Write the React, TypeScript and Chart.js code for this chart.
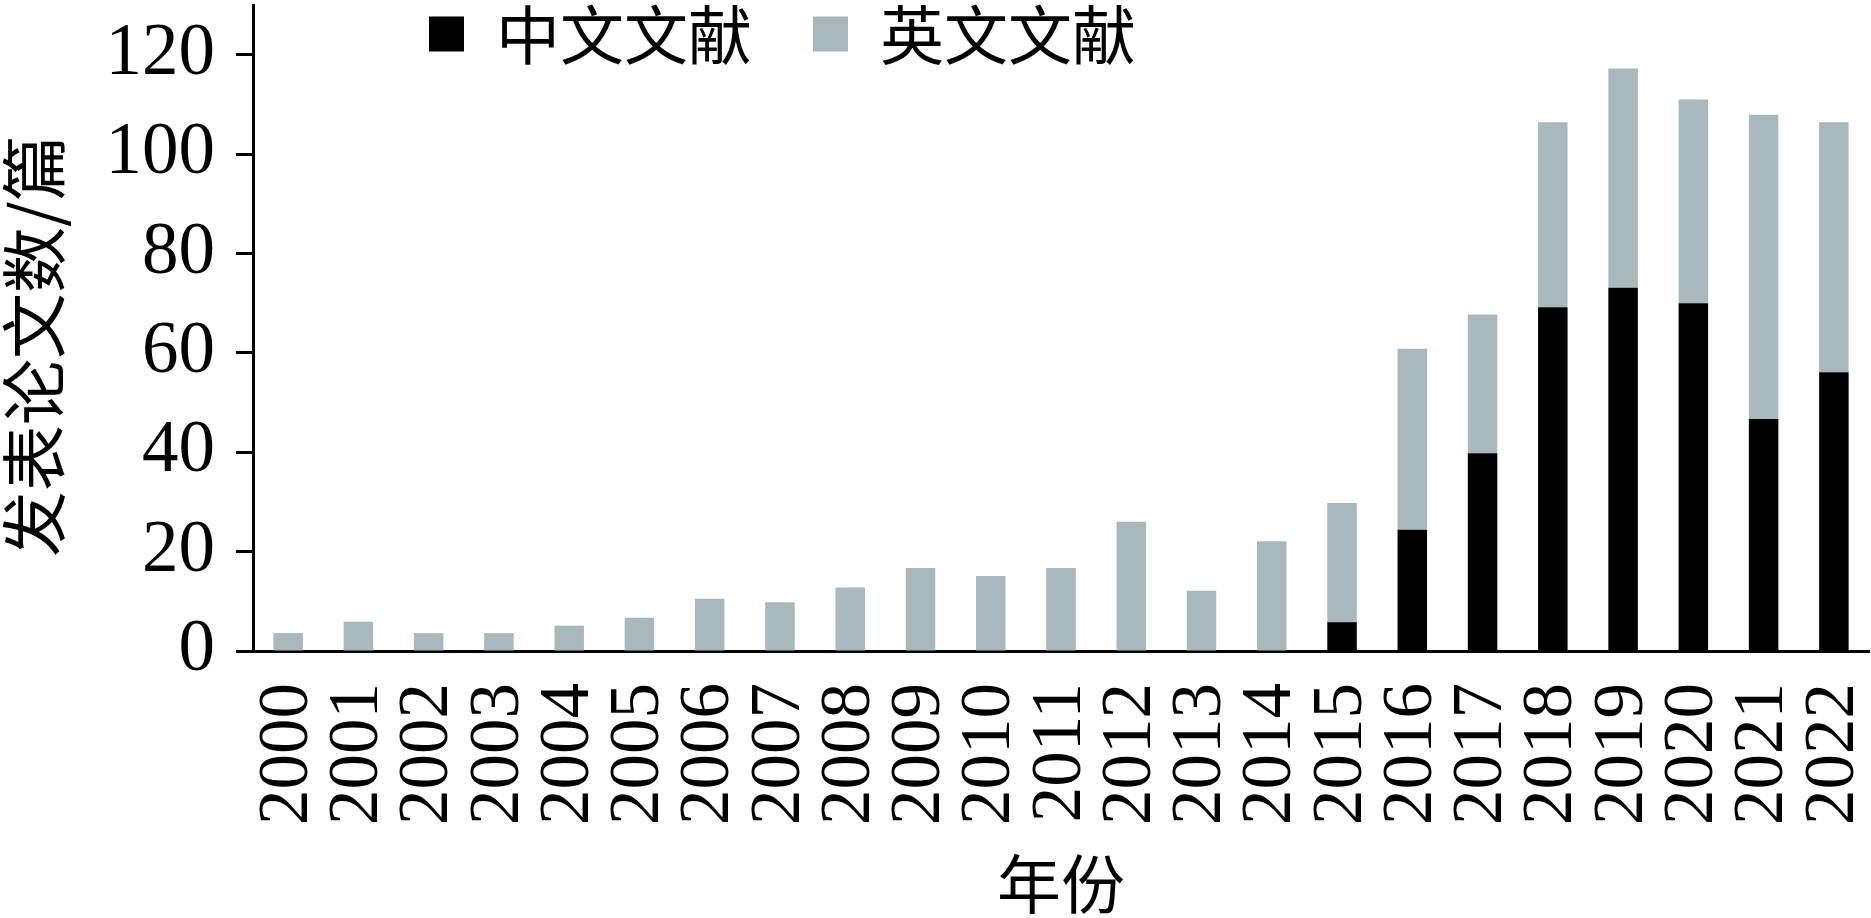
import React, { useEffect, useRef } from "react";
import { Chart, registerables } from "chart.js";

Chart.register(...registerables);

const years = [
  "2000", "2001", "2002", "2003", "2004", "2005", "2006", "2007", "2008", "2009", "2010", "2011",
  "2012", "2013", "2014", "2015", "2016", "2017", "2018", "2019", "2020", "2021", "2022",
];
const chineseLabel = "中文文献";
const englishLabel = "英文文献";
const chineseCounts = [0, 0, 0, 0, 0, 0, 0, 0, 0, 0, 0, 0, 0, 0, 0, 5.8, 24.4, 39.8, 69.2, 73.1, 70.0, 46.7, 56.1];
const englishCounts = [3.6, 5.9, 3.6, 3.6, 5.1, 6.7, 10.5, 9.8, 12.8, 16.7, 15.1, 16.7, 26.0, 12.1, 22.1, 24.0, 36.4, 27.9, 37.2, 44.1, 41.0, 61.2, 50.3];
const yTitle = "发表论文数/篇";
const xTitle = "年份";
const yMax = 130;
const yStep = 10;
const yLabelEvery = 20;

const W = 1871;
const H = 918;
const SERIF = '"Liberation Serif", "Noto Sans CJK SC", serif';
const CJK = '"Noto Sans CJK SC", "Liberation Serif", sans-serif';

const overlayPlugin = {
  id: "overlay",
  afterDraw(chart: any) {
    const ctx = chart.ctx;
    ctx.save();
    // custom legend
    ctx.font = `64px ${CJK}`;
    ctx.textBaseline = "middle";
    ctx.textAlign = "left";
    let x = 429;
    const sq = 35;
    const cy = 34;
    chart.data.datasets.forEach((ds: any) => {
      ctx.fillStyle = ds.backgroundColor;
      ctx.fillRect(x, cy - sq / 2, sq, sq);
      x += sq + 32;
      ctx.fillStyle = "#000";
      ctx.fillText(ds.label, x, cy + 1);
      x += ctx.measureText(ds.label).width + 61;
    });
    // y axis title
    ctx.translate(34, 346);
    ctx.rotate(-Math.PI / 2);
    ctx.textAlign = "center";
    ctx.fillStyle = "#000";
    ctx.font = `66px ${CJK}`;
    ctx.fillText(yTitle, 0, 0);
    ctx.restore();
  },
};

export default function App() {
  const ref = useRef<HTMLCanvasElement | null>(null);

  useEffect(() => {
    document.body.style.margin = "0";
    const canvas = ref.current;
    if (!canvas) return;
    const chart = new Chart(canvas, {
      type: "bar",
      data: {
        labels: years,
        datasets: [
          {
            label: chineseLabel,
            data: chineseCounts,
            backgroundColor: "#000000",
            borderWidth: 0,
            categoryPercentage: 1,
            barPercentage: 0.42,
          },
          {
            label: englishLabel,
            data: englishCounts,
            backgroundColor: "#A9B8BC",
            borderWidth: 0,
            categoryPercentage: 1,
            barPercentage: 0.42,
          },
        ],
      },
      options: {
        responsive: false,
        devicePixelRatio: 1,
        animation: false,
        layout: { padding: { left: 0, right: 2, top: 5, bottom: 0 } },
        plugins: {
          legend: { display: false },
          tooltip: { enabled: false },
          title: { display: false },
        },
        scales: {
          x: {
            stacked: true,
            grid: { display: false, drawTicks: false },
            border: { display: true, color: "#000", width: 3 },
            ticks: {
              color: "#000",
              font: { family: SERIF, size: 71 },
              minRotation: 90,
              maxRotation: 90,
              autoSkip: false,
              padding: 32,
            },
            title: {
              display: true,
              text: xTitle,
              color: "#000",
              font: { family: CJK, size: 64, lineHeight: 1 },
              padding: { top: 0, bottom: 2 },
            },
            afterFit(scale: any) {
              scale.height = 267;
              scale.paddingLeft = 0;
              scale.paddingRight = 0;
            },
          },
          y: {
            stacked: true,
            min: 0,
            max: yMax,
            grid: {
              display: true,
              drawOnChartArea: false,
              drawTicks: true,
              tickLength: 17,
              tickWidth: 3,
              tickColor: "#000",
            },
            border: { display: true, color: "#000", width: 3 },
            ticks: {
              stepSize: yStep,
              color: "#000",
              padding: 21,
              font: { family: SERIF, size: 73 },
              callback: (v: any) => (Number(v) % yLabelEvery === 0 ? String(v) : ""),
            },
            afterFit(scale: any) {
              scale.width = 253;
              scale.paddingTop = 0;
              scale.paddingBottom = 0;
            },
          },
        },
      },
      plugins: [overlayPlugin],
    });
    return () => chart.destroy();
  }, []);

  return (
    <div style={{ width: W, height: H, background: "#fff" }}>
      <canvas ref={ref} width={W} height={H} style={{ display: "block", width: W, height: H }} />
    </div>
  );
}
